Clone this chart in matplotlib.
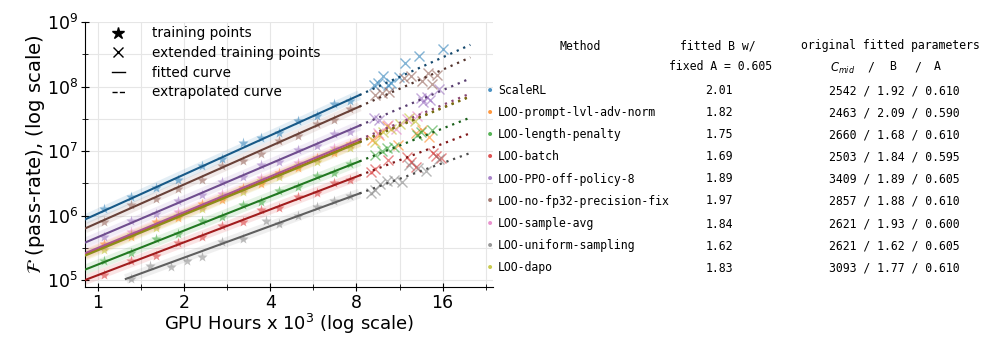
"""
Scaling curves for the leave-one-out ablations, with the fitted parameters listed beside the plot.
"""

import matplotlib
matplotlib.use('Agg')
from matplotlib import pyplot as plt
from matplotlib import ticker
from matplotlib import colors as mcolors
from matplotlib.lines import Line2D

methods = ['ScaleRL', 'LOO-prompt-lvl-adv-norm', 'LOO-length-penalty', 'LOO-batch',
           'LOO-PPO-off-policy-8', 'LOO-no-fp32-precision-fix', 'LOO-sample-avg',
           'LOO-uniform-sampling', 'LOO-dapo']
colors = ['tab:blue', 'tab:orange', 'tab:green', 'tab:red', 'tab:purple',
          'tab:brown', 'tab:pink', 'tab:gray', 'tab:olive']

# table values
fitted_b = [2.01, 1.82, 1.75, 1.69, 1.89, 1.97, 1.84, 1.62, 1.83]
c_mid = [2542, 2463, 2660, 2503, 3409, 2857, 2621, 2621, 3093]
orig_b = [1.92, 2.09, 1.68, 1.84, 1.89, 1.88, 1.93, 1.62, 1.77]
orig_a = [0.610, 0.590, 0.610, 0.595, 0.605, 0.610, 0.600, 0.605, 0.610]

# fitted curve: start point, end of fit (8.2k h) and end of extrapolation (20k h)
fit_x0 = [0.9, 0.9, 0.9, 0.9, 0.9, 0.9, 0.9, 1.25, 0.9]
fit_y0 = [8.7e5, 2.5e5, 1.45e5, 1.0e5, 3.8e5, 6.3e5, 2.6e5, 1.04e5, 2.39e5]
fit_x1 = 8.2
fit_y1 = [7.38e7, 1.394e7, 6.92e6, 4.18e6, 2.48e7, 4.89e7, 1.51e7, 2.2e6, 1.363e7]
extrap_x = 20
extrap_y = [4.43e8, 7.07e7, 3.30e7, 1.89e7, 1.335e8, 2.83e8, 7.81e7, 9.33e6, 6.98e7]

# training points (GPU hours x 1e3)
star_x = [1.05, 1.3, 1.6, 1.9, 2.3, 2.7, 3.2, 3.7, 4.3, 5.0, 5.8, 6.7, 7.6]
star_x_uniform = [1.3, 1.52, 1.8, 2.05, 2.3, 2.7, 3.2, 3.85, 4.3, 5.0, 5.8, 6.7, 7.6]
stars_scalerl = [1.25e6, 1.95e6, 2.7e6, 3.6e6, 5.9e6, 7.5e6, 1.35e7, 1.6e7, 1.9e7, 2.9e7, 3.5e7, 5.3e7, 6.0e7]
stars_prompt = [3.6e5, 4.6e5, 7.8e5, 9.2e5, 1.5e6, 1.75e6, 2.7e6, 3.1e6, 4.6e6, 5.4e6, 7.9e6, 9.2e6, 1.3e7]
stars_length = [2.0e5, 2.6e5, 4.3e5, 5.1e5, 8.1e5, 9.4e5, 1.45e6, 1.6e6, 2.4e6, 2.75e6, 4.1e6, 4.6e6, 6.4e6]
stars_batch = [1.2e5, 2.0e5, 2.4e5, 3.7e5, 4.6e5, 6.9e5, 7.9e5, 1.2e6, 1.3e6, 1.95e6, 2.2e6, 3.2e6, 3.5e6]
stars_ppo = [4.7e5, 8.3e5, 1.05e6, 1.7e6, 2.1e6, 3.3e6, 3.9e6, 6.0e6, 6.8e6, 1.05e7, 1.2e7, 1.85e7, 2.0e7]
stars_fp32 = [8.0e5, 1.45e6, 1.8e6, 2.6e6, 3.6e6, 5.9e6, 7.0e6, 9.0e6, 1.45e7, 1.7e7, 2.6e7, 3.0e7, 4.5e7]
stars_sample = [3.2e5, 5.6e5, 6.9e5, 1.12e6, 1.35e6, 2.15e6, 2.5e6, 3.8e6, 4.3e6, 6.6e6, 7.4e6, 1.12e7, 1.25e7]
stars_uniform = [1.05e5, 1.65e5, 1.6e5, 2.0e5, 2.3e5, 3.9e5, 4.4e5, 8.2e5, 7.5e5, 1.0e6, 1.35e6, 1.7e6, 2.0e6]
stars_dapo = [2.9e5, 5.0e5, 6.4e5, 1.0e6, 1.25e6, 1.95e6, 2.3e6, 3.45e6, 3.9e6, 5.9e6, 6.8e6, 1.0e7, 1.12e7]

# extended training points
ext_x_scalerl = [9.2, 9.5, 9.9, 10.3, 10.6, 11.3, 11.8, 13.2, 16.0]
ext_y_scalerl = [1.05e8, 1.15e8, 1.45e8, 1.05e8, 1.15e8, 1.4e8, 2.3e8, 3.0e8, 3.8e8]
ext_x_prompt = [9.1, 9.6, 10.2, 11.2, 12.9, 13.5, 14.3]
ext_y_prompt = [1.5e7, 1.8e7, 2.4e7, 1.25e7, 1.9e7, 2.1e7, 1.65e7]
ext_x_length = [9.3, 9.8, 10.2, 10.8, 13.0, 13.4, 14.7]
ext_y_length = [8.7e6, 1.0e7, 1.1e7, 1.15e7, 1.8e7, 2.0e7, 2.1e7]
ext_x_batch = [9.0, 9.3, 10.3, 12.0, 12.4, 12.9, 14.8, 15.2, 15.8]
ext_y_batch = [4.8e6, 5.2e6, 7.3e6, 8.0e6, 6.7e6, 5.6e6, 9.2e6, 8.4e6, 7.8e6]
ext_x_ppo = [9.2, 9.6, 13.4, 13.7, 14.1, 14.5, 15.5]
ext_y_ppo = [3.3e7, 3.0e7, 6.6e7, 5.8e7, 7.0e7, 6.2e7, 9.0e7]
ext_x_fp32 = [9.3, 9.8, 10.4, 11.7, 12.4, 13.6, 14.2, 14.7, 15.3]
ext_y_fp32 = [7.3e7, 7.8e7, 8.3e7, 1.35e8, 1.45e8, 1.2e8, 1.6e8, 1.1e8, 1.5e8]
ext_x_sample = [9.5, 10.3, 11.0, 12.0, 13.0]
ext_y_sample = [1.9e7, 2.5e7, 2.2e7, 3.1e7, 3.5e7]
ext_x_uniform = [9.0, 9.3, 9.7, 10.2, 10.8, 11.5, 12.2, 13.1, 14.0, 15.5]
ext_y_uniform = [2.2e6, 2.5e6, 3.1e6, 3.4e6, 3.5e6, 3.3e6, 6.0e6, 5.4e6, 4.9e6, 7.5e6]
ext_x_dapo = [9.3, 9.9, 10.6, 11.4, 12.2, 12.8]
ext_y_dapo = [1.4e7, 2.0e7, 2.2e7, 2.6e7, 3.2e7, 2.9e7]

x_ticks = [1, 2, 4, 8, 16]
x_minor = [1.414, 2.828, 5.657, 11.31, 22.63]
y_ticks = [1e5, 1e6, 1e7, 1e8, 1e9]
y_minor = [3.162e5, 3.162e6, 3.162e7, 3.162e8]


def darker(c, amount=0.25):
    r, g, b = mcolors.to_rgb(c)
    return (r * (1 - amount), g * (1 - amount), b * (1 - amount))


def plot_scaling(ax):
    star_xs = [star_x] * 7 + [star_x_uniform, star_x]
    star_ys = [stars_scalerl, stars_prompt, stars_length, stars_batch, stars_ppo,
               stars_fp32, stars_sample, stars_uniform, stars_dapo]
    ext_xs = [ext_x_scalerl, ext_x_prompt, ext_x_length, ext_x_batch, ext_x_ppo,
              ext_x_fp32, ext_x_sample, ext_x_uniform, ext_x_dapo]
    ext_ys = [ext_y_scalerl, ext_y_prompt, ext_y_length, ext_y_batch, ext_y_ppo,
              ext_y_fp32, ext_y_sample, ext_y_uniform, ext_y_dapo]

    for i, c in enumerate(colors):
        line_c = darker(c)
        # soft halo under the fit
        ax.plot([fit_x0[i], fit_x1], [fit_y0[i], fit_y1[i]], color=c, lw=7, alpha=0.12,
                solid_capstyle='butt', zorder=1)
        ax.plot(star_xs[i], star_ys[i], ls='none', marker='*', ms=8, color=c, alpha=0.5,
                mec='none', zorder=2)
        ax.plot(ext_xs[i], ext_ys[i], ls='none', marker='x', ms=7.5, mew=1.0, color=c,
                alpha=0.55, zorder=2)
        ax.plot([fit_x0[i], fit_x1], [fit_y0[i], fit_y1[i]], color=line_c, lw=1.5, zorder=3)
        ax.plot([fit_x1, extrap_x], [fit_y1[i], extrap_y[i]], color=darker(c, 0.4), lw=1.6,
                ls=(0, (1, 2.2)), zorder=3)

    ax.set_xscale('log', base=2)
    ax.set_yscale('log')
    ax.set_xlim(0.9, 24)
    ax.set_ylim(7.8e4, 1e9)

    ax.xaxis.set_major_locator(ticker.FixedLocator(x_ticks))
    ax.xaxis.set_major_formatter(ticker.FixedFormatter([str(t) for t in x_ticks]))
    ax.xaxis.set_minor_locator(ticker.FixedLocator(x_minor))
    ax.xaxis.set_minor_formatter(ticker.NullFormatter())
    ax.yaxis.set_major_locator(ticker.FixedLocator(y_ticks))
    ax.yaxis.set_minor_locator(ticker.FixedLocator(y_minor))
    ax.yaxis.set_minor_formatter(ticker.NullFormatter())

    ax.tick_params(which='major', direction='inout', length=6, labelsize=12.5, pad=2)
    ax.tick_params(which='minor', direction='inout', length=4)
    ax.grid(which='both', color='#e6e6e6', lw=0.8)
    ax.set_axisbelow(True)
    ax.spines['top'].set_visible(False)
    ax.spines['right'].set_visible(False)

    ax.set_xlabel('GPU Hours x $10^3$ (log scale)', fontsize=13, labelpad=0)
    ax.set_ylabel(r'$\mathcal{F}$ (pass-rate), (log scale)', fontsize=14, labelpad=0)

    handles = [
        Line2D([], [], ls='none', marker='*', ms=9, color='black'),
        Line2D([], [], ls='none', marker='x', ms=7, color='black'),
        Line2D([], [], color='black', lw=1),
        Line2D([], [], color='black', lw=1, ls='--'),
    ]
    labels = ['training points', 'extended training points', 'fitted curve',
              'extrapolated curve']
    ax.legend(handles, labels, loc='upper left', frameon=False, fontsize=9.8,
              handlelength=1.0, handletextpad=2.0, labelspacing=0.42,
              bbox_to_anchor=(0.035, 1.03))


def draw_table(fig):
    mono = 'DejaVu Sans Mono'
    fs = 8.3
    W, H = 997, 340

    def put(x, y, s, ha='left', **kw):
        fig.text(x / W, 1 - y / H, s, ha=ha, va='center', family=mono, fontsize=fs, **kw)

    put(580, 46, 'Method', ha='center')
    put(718, 46, 'fitted B w/', ha='center')
    put(890, 46, 'original fitted parameters', ha='center')
    put(721, 67, 'fixed A = 0.605', ha='center')
    put(843, 68, '$C_{mid}$', ha='center')
    put(871, 67, '/', ha='center')
    put(893, 67, 'B', ha='center')
    put(918, 67, '/', ha='center')
    put(937, 67, 'A', ha='center')

    row_y = [91, 113, 135, 157, 179, 201, 224, 246, 268]
    for i, name in enumerate(methods):
        y = row_y[i]
        fig.text(490 / W, 1 - y / H, '\u2022', ha='center', va='center', color=colors[i],
                 fontsize=10, alpha=0.8)
        put(498, y, name)
        put(719, y, f'{fitted_b[i]:.2f}', ha='center')
        put(829, y, f'{c_mid[i]} / {orig_b[i]:.2f} / {orig_a[i]:.3f}')


def main():
    fig = plt.figure(figsize=(9.97, 3.4), dpi=100)
    ax = fig.add_axes([85 / 997, 1 - 287 / 340, 408 / 997, 265 / 340])
    plot_scaling(ax)
    draw_table(fig)
    fig.savefig('out.png', dpi=100, facecolor='white')


if __name__ == '__main__':
    main()
